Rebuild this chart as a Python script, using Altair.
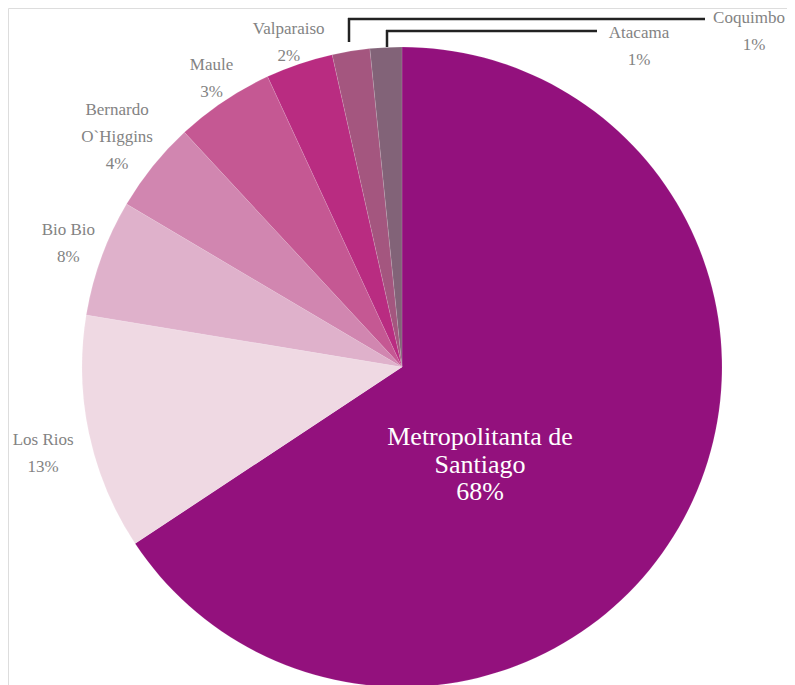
import altair as alt
import pandas as pd

regions = ["Metropolitanta de Santiago", "Los Rios", "Bio Bio", "Bernardo O`Higgins",
           "Maule", "Valparaiso", "Coquimbo", "Atacama"]
values = [65.7, 11.9, 5.9, 4.6, 5.0, 3.4, 1.9, 1.6]
pct_labels = ["68%", "13%", "8%", "4%", "3%", "2%", "1%", "1%"]
colors = ["#93117d", "#efd9e3", "#dfb1cb", "#d186b0", "#c55893", "#b92c81", "#a4567f", "#826378"]

label_lines = {
    "Metropolitanta de Santiago": ["Metropolitanta de", "Santiago", "68%"],
    "Los Rios": ["Los Rios", "13%"],
    "Bio Bio": ["Bio Bio", "8%"],
    "Bernardo O`Higgins": ["Bernardo", "O`Higgins", "4%"],
    "Maule": ["Maule", "3%"],
    "Valparaiso": ["Valparaiso", "2%"],
    "Coquimbo": ["Coquimbo", "1%"],
    "Atacama": ["Atacama", "1%"],
}
# labels placed around the pie: (radius from centre, vertical shift of first line)
label_place = {
    "Los Rios": (367, -4),
    "Bio Bio": (355, -16),
    "Bernardo O`Higgins": (366, -27),
    "Maule": (342, -18),
    "Valparaiso": (353, -4),
}
# labels placed freely: (x per line, y of first line, font size, line height, colour)
free_place = {
    "Metropolitanta de Santiago": ([472, 472, 472], 429, 26, 27.5, "#ffffff"),
    "Coquimbo": ([741, 746], 10, 17, 27, "#838383"),
    "Atacama": ([631, 631], 25, 17, 27, "#838383"),
}

df = pd.DataFrame({
    "region": regions,
    "value": values,
    "order": list(range(len(regions))),
    "pct": pct_labels,
})

CX, CY, R = 394, 359, 320
FONT = "Liberation Serif"
GREY = "#838383"
LH = 27

base = alt.Chart(df).encode(
    theta=alt.Theta("value:Q", stack=True),
    order=alt.Order("order:Q"),
)

arcs = base.mark_arc(radius=R, x=CX, y=CY, stroke="#ffffff", strokeWidth=0.3, strokeOpacity=0.4).encode(
    color=alt.Color("region:N", scale=alt.Scale(domain=regions, range=colors), legend=None)
)

label_layers = []
for name, (rad, dy) in label_place.items():
    for i, line in enumerate(label_lines[name]):
        label_layers.append(
            base.mark_text(radius=rad, x=CX, y=CY, dy=dy + i * LH, font=FONT, fontSize=17,
                           color=GREY, align="center", baseline="middle")
            .transform_calculate(t=f"datum.region == '{name}' ? '{line}' : ''")
            .encode(text="t:N")
        )

free_layers = []
for name, (fxs, fy, fs, lh, col) in free_place.items():
    for i, line in enumerate(label_lines[name]):
        free_layers.append(
            alt.Chart(df[df.region == name]).mark_text(
                font=FONT, fontSize=fs, color=col, align="center", baseline="middle")
            .transform_calculate(t=f"'{line}'")
            .encode(text="t:N", x=alt.value(fxs[i]), y=alt.value(fy + i * lh))
        )

one = df[df.region == "Coquimbo"]
two = df[df.region == "Atacama"]
line_style = dict(color="#222222", strokeWidth=2.5)
coq_h = alt.Chart(one).mark_rule(**line_style).encode(
    x=alt.value(340), x2=alt.value(697), y=alt.value(11))
coq_v = alt.Chart(one).mark_rule(**line_style).encode(
    x=alt.value(341), y=alt.value(10), y2=alt.value(34))
ata_h = alt.Chart(two).mark_rule(**line_style).encode(
    x=alt.value(378), x2=alt.value(589), y=alt.value(23))
ata_v = alt.Chart(two).mark_rule(**line_style).encode(
    x=alt.value(379), y=alt.value(22), y2=alt.value(39))

chart = alt.layer(
    arcs, *label_layers, coq_h, coq_v, ata_h, ata_v, *free_layers
).properties(
    width=779, height=677,
    autosize=alt.AutoSizeParams(type="none"),
    padding=0,
).configure_view(stroke=None).configure(background="#ffffff")

chart.save("out.html", embed_options={"renderer": "svg", "actions": False})
